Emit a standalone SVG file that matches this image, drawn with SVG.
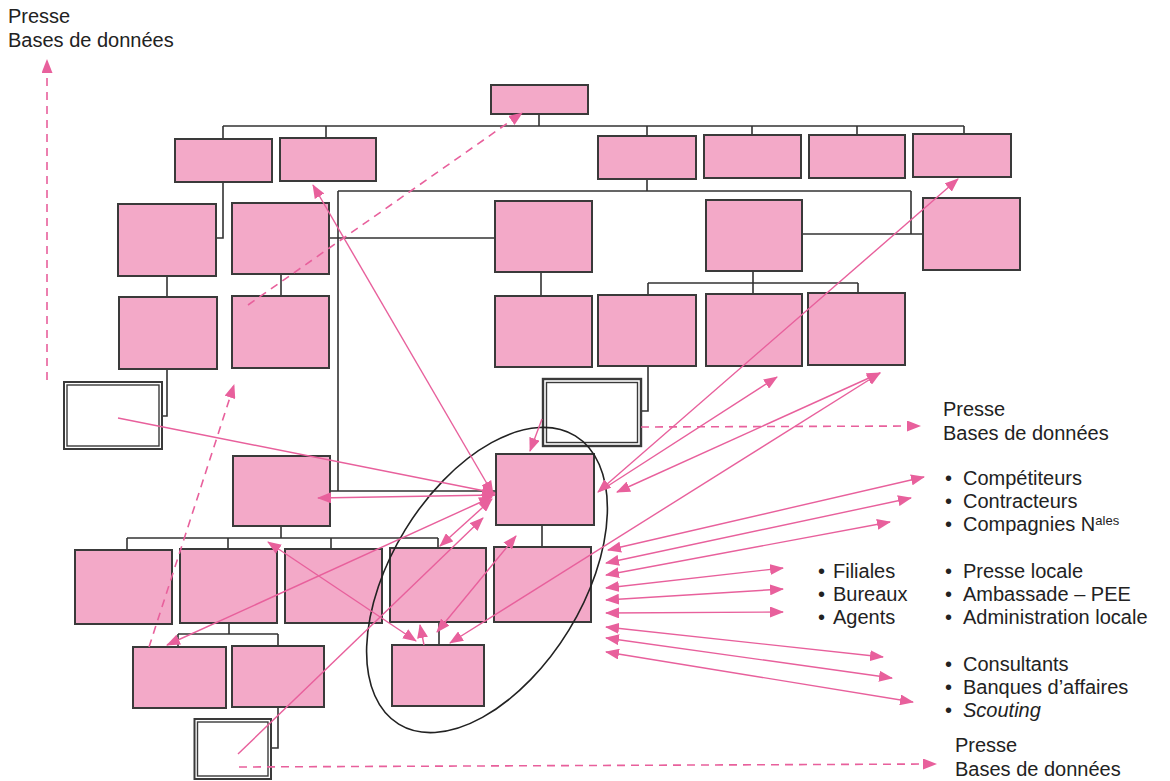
<svg xmlns="http://www.w3.org/2000/svg" width="1170" height="781" viewBox="0 0 1170 781">
<defs>
<marker id="ah" viewBox="0 0 14 11" refX="13" refY="5.5" markerUnits="userSpaceOnUse" markerWidth="14" markerHeight="11" orient="auto-start-reverse"><path d="M0,0 L14,5.5 L0,11 z" fill="#e8609c"/></marker>
</defs>
<style>
.b{fill:#f3a9c8;stroke:#3a3a3a;stroke-width:2}
.d{fill:#fff;stroke:#3a3a3a;stroke-width:2}
.di{fill:none;stroke:#3a3a3a;stroke-width:1.4}
.o{fill:none;stroke:#333;stroke-width:1.6}
.a{fill:none;stroke:#e8609c;stroke-width:1.4}
.s{marker-end:url(#ah)}
.w{marker-start:url(#ah);marker-end:url(#ah)}
.k{fill:none;stroke:#e8609c;stroke-width:1.6;stroke-dasharray:8 6}
.t{font-family:"Liberation Sans",Arial,sans-serif;font-size:20px;fill:#222}
</style>
<rect width="1170" height="781" fill="#fff"/>
<g id="orglines">
<path class="o" d="M539,114V126 M223,126H964 M223,126V139 M326,126V138 M647,126V136 M752,126V135 M857,126V135 M964,126V134"/>
<path class="o" d="M223,182V238H216 M167,276V297 M167,369V416H162 M281,274V296 M329,238H495"/>
<path class="o" d="M647,179V191 M338,191H911 M338,191V491 M330,491H496 M911,191V234 M802,234H923"/>
<path class="o" d="M541,272V296 M753,271V294 M648,283H858 M648,283V295 M858,283V293 M648,366V411H641"/>
<path class="o" d="M281,526V538 M127,538H438 M127,538V550 M228,538V549 M331,538V549 M438,538V548 M542,525V547"/>
<path class="o" d="M229,623V634 M178,634H278 M178,634V647 M278,634V646 M278,707V748H271 M439,622V645"/>
</g>
<g id="n-root"><rect class="b" x="491" y="85" width="97" height="29"/></g>
<g id="n-l1a"><rect class="b" x="175" y="139" width="97" height="43"/></g>
<g id="n-l1b"><rect class="b" x="280" y="138" width="96" height="43"/></g>
<g id="n-l1c"><rect class="b" x="598" y="136" width="98" height="43"/></g>
<g id="n-l1d"><rect class="b" x="704" y="135" width="97" height="43"/></g>
<g id="n-l1e"><rect class="b" x="809" y="135" width="96" height="43"/></g>
<g id="n-l1f"><rect class="b" x="913" y="134" width="98" height="43"/></g>
<g id="n-l2a"><rect class="b" x="118" y="204" width="98" height="72"/></g>
<g id="n-l2b"><rect class="b" x="232" y="203" width="97" height="71"/></g>
<g id="n-m2"><rect class="b" x="495" y="201" width="97" height="71"/></g>
<g id="n-r2"><rect class="b" x="706" y="200" width="96" height="71"/></g>
<g id="n-fr2"><rect class="b" x="923" y="198" width="97" height="72"/></g>
<g id="n-l3a"><rect class="b" x="119" y="297" width="98" height="72"/></g>
<g id="n-l3b"><rect class="b" x="232" y="296" width="97" height="72"/></g>
<g id="n-m3a"><rect class="b" x="495" y="296" width="97" height="71"/></g>
<g id="n-m3b"><rect class="b" x="598" y="295" width="98" height="71"/></g>
<g id="n-m3c"><rect class="b" x="706" y="294" width="96" height="72"/></g>
<g id="n-m3d"><rect class="b" x="808" y="293" width="97" height="72"/></g>
<g id="n-d1"><rect class="d" x="64" y="382" width="98" height="67"/><rect class="di" x="67" y="385" width="92" height="61"/></g>
<g id="n-d2"><rect class="d" x="543" y="379" width="98" height="67" style="stroke-width:2.4"/><rect class="di" x="546.5" y="382.5" width="91" height="60"/></g>
<g id="n-l4"><rect class="b" x="233" y="456" width="97" height="70"/></g>
<g id="n-c"><rect class="b" x="496" y="454" width="98" height="71"/></g>
<g id="n-b1"><rect class="b" x="75" y="550" width="97" height="74"/></g>
<g id="n-b2"><rect class="b" x="180" y="549" width="97" height="74"/></g>
<g id="n-b3"><rect class="b" x="285" y="549" width="97" height="74"/></g>
<g id="n-c4"><rect class="b" x="390" y="548" width="96" height="74"/></g>
<g id="n-c2"><rect class="b" x="494" y="547" width="97" height="75"/></g>
<g id="n-b4"><rect class="b" x="133" y="647" width="93" height="61"/></g>
<g id="n-b5"><rect class="b" x="232" y="646" width="92" height="61"/></g>
<g id="n-c3"><rect class="b" x="392" y="645" width="92" height="61"/></g>
<g id="n-d3"><rect class="d" x="194.5" y="719" width="76.5" height="60"/><rect class="di" x="197.5" y="722" width="70.5" height="54"/></g>
<g id="ellipse"><ellipse cx="487" cy="580" rx="169" ry="96" transform="rotate(-58.5 487 580)" fill="none" stroke="#222" stroke-width="1.6"/></g>
<g id="connectors">
<path class="k s" d="M47,380V60"/>
<path class="k s" d="M248,305L522,113"/>
<path class="k s" d="M149,647L234,385"/>
<path class="k s" d="M641,427L920,426"/>
<path class="k s" d="M239,767L936,764"/>
<path class="a s" d="M118,418L495,493"/>
<path class="a w" d="M318,498L495,495"/>
<path class="a w" d="M313,185L493,494"/>
<path class="a w" d="M167,645L492,497"/>
<path class="a w" d="M440,546L492,499"/>
<path class="a w" d="M268,542L416,641"/>
<path class="a s" d="M238,754L483,518"/>
<path class="a w" d="M437,632L516,536"/>
<path class="a s" d="M424,645L420,625"/>
<path class="a s" d="M542,419L530,451"/>
<path class="a w" d="M598,492L958,179"/>
<path class="a s" d="M600,491L777,377"/>
<path class="a w" d="M617,492L880,373"/>
<path class="a w" d="M450,643L880,373"/>
<path class="a w" d="M608,550L924,477"/>
<path class="a w" d="M606,563L911,498"/>
<path class="a w" d="M606,575L890,522"/>
<path class="a w" d="M606,588L783,568"/>
<path class="a w" d="M606,600L783,589"/>
<path class="a w" d="M606,613L783,612"/>
<path class="a w" d="M606,627L883,657"/>
<path class="a w" d="M606,638L892,678"/>
<path class="a w" d="M606,652L913,702"/>
</g>
<g id="labels" class="t">
<text x="8" y="23">Presse</text>
<text x="8" y="47">Bases de données</text>
<text x="943" y="416">Presse</text>
<text x="943" y="440">Bases de données</text>
<text x="945" y="485">•</text><text x="963" y="485">Compétiteurs</text>
<text x="945" y="508">•</text><text x="963" y="508">Contracteurs</text>
<text x="945" y="531">•</text><text x="963" y="531">Compagnies N<tspan dy="-6" font-size="13">ales</tspan></text>
<text x="818" y="578">•</text><text x="833" y="578">Filiales</text>
<text x="818" y="601">•</text><text x="833" y="601">Bureaux</text>
<text x="818" y="624">•</text><text x="833" y="624">Agents</text>
<text x="945" y="578">•</text><text x="963" y="578">Presse locale</text>
<text x="945" y="601">•</text><text x="963" y="601">Ambassade – PEE</text>
<text x="945" y="624">•</text><text x="963" y="624">Administration locale</text>
<text x="945" y="671">•</text><text x="963" y="671">Consultants</text>
<text x="945" y="694">•</text><text x="963" y="694">Banques d’affaires</text>
<text x="945" y="717">•</text><text x="963" y="717" font-style="italic">Scouting</text>
<text x="955" y="752">Presse</text>
<text x="955" y="776">Bases de données</text>
</g>
</svg>
